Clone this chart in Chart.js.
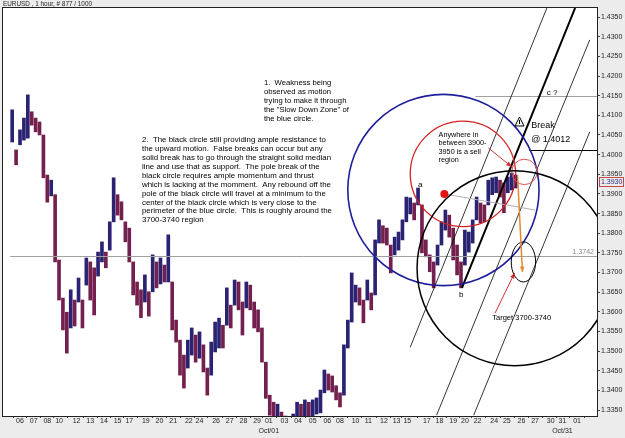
<!DOCTYPE html>
<html lang="en">
<head>
<meta charset="UTF-8">
<title>EURUSD 1 hour</title>
<script src="https://cdn.jsdelivr.net/npm/chart.js"></script>
<style>
    body { margin: 0; padding: 0; background: #ececec; }
    #wrap { width: 625px; height: 438px; }
</style>
</head>
<body>
<div id="wrap"><canvas id="fxChart" width="625" height="438"></canvas></div>
<script>
// hourly bars, resampled: one bar per ~6 hours (high / low)
const barHigh = [
    1.4114, 1.4012, 1.4063, 1.4093, 1.4152, 1.4109, 1.4093, 1.4083, 1.4050, 1.3948,
    1.3935, 1.3898, 1.3732, 1.3635, 1.3599, 1.3656, 1.3630, 1.3686, 1.3630, 1.3737,
    1.3727, 1.3712, 1.3752, 1.3778, 1.3752, 1.3829, 1.3941, 1.3898, 1.3880, 1.3829,
    1.3813, 1.3727, 1.3676, 1.3656, 1.3694, 1.3651, 1.3745, 1.3727, 1.3737, 1.3719,
    1.3796, 1.3676, 1.3579, 1.3528, 1.3490, 1.3528, 1.3559, 1.3541, 1.3549, 1.3516,
    1.3457, 1.3523, 1.3574, 1.3584, 1.3566, 1.3661, 1.3617, 1.3681, 1.3676, 1.3625,
    1.3676, 1.3668, 1.3625, 1.3605, 1.3559, 1.3472, 1.3388, 1.3370, 1.3365, 1.3345,
    1.3335, 1.3325, 1.3340, 1.3370, 1.3365, 1.3376, 1.3370, 1.3376, 1.3381, 1.3401,
    1.3452, 1.3442, 1.3437, 1.3412, 1.3394, 1.3516, 1.3579, 1.3699, 1.3668, 1.3661,
    1.3630, 1.3681, 1.3648, 1.3783, 1.3834, 1.3819, 1.3813, 1.3770, 1.3790, 1.3803,
    1.3834, 1.3892, 1.3890, 1.3877, 1.3915, 1.3872, 1.3783, 1.3745, 1.3727, 1.3770,
    1.3829, 1.3859, 1.3846, 1.3813, 1.3770, 1.3727, 1.3808, 1.3803, 1.3834, 1.3892,
    1.3877, 1.3872, 1.3935, 1.3941, 1.3943, 1.3935, 1.3928, 1.3943, 1.3953, 1.3948
];
const barLow = [
    1.4032, 1.3974, 1.4025, 1.4037, 1.4042, 1.4075, 1.4058, 1.4050, 1.3941, 1.3879,
    1.3895, 1.3727, 1.3630, 1.3554, 1.3495, 1.3559, 1.3564, 1.3625, 1.3559, 1.3668,
    1.3630, 1.3592, 1.3691, 1.3727, 1.3712, 1.3757, 1.3829, 1.3846, 1.3834, 1.3778,
    1.3727, 1.3643, 1.3617, 1.3585, 1.3625, 1.3589, 1.3651, 1.3661, 1.3671, 1.3676,
    1.3676, 1.3554, 1.3523, 1.3439, 1.3406, 1.3457, 1.3490, 1.3472, 1.3482, 1.3447,
    1.3388, 1.3439, 1.3498, 1.3508, 1.3508, 1.3566, 1.3559, 1.3617, 1.3605, 1.3541,
    1.3610, 1.3605, 1.3559, 1.3549, 1.3472, 1.3380, 1.3337, 1.3325, 1.3330, 1.3299,
    1.3284, 1.3274, 1.3294, 1.3330, 1.3330, 1.3332, 1.3330, 1.3335, 1.3340, 1.3343,
    1.3394, 1.3401, 1.3396, 1.3376, 1.3358, 1.3388, 1.3508, 1.3574, 1.3625, 1.3617,
    1.3572, 1.3630, 1.3605, 1.3643, 1.3775, 1.3775, 1.3770, 1.3699, 1.3745, 1.3757,
    1.3783, 1.3829, 1.3849, 1.3834, 1.3872, 1.3750, 1.3740, 1.3702, 1.3661, 1.3719,
    1.3770, 1.3808, 1.3790, 1.3732, 1.3694, 1.3661, 1.3719, 1.3752, 1.3775, 1.3834,
    1.3826, 1.3829, 1.3872, 1.3898, 1.3903, 1.3892, 1.3852, 1.3903, 1.3910, 1.3915
];

const lastPrice = 1.3930;
const markLine = 1.3742;

// day ticks along the bottom (position in bar units)
const dayTickPos = [2, 5.5, 9, 12, 16.5, 20, 23.5, 27, 30, 34.25, 37.75, 41.25, 45.25, 48,
    52.25, 55.75, 59.25, 62.75, 65.75, 69.75, 73.25, 77, 80.75, 84, 88, 91.25, 95.25, 98.5,
    101.25, 106.25, 109.5, 113, 116, 119.25, 123.5, 126.75, 130.5, 134, 138, 141, 144.75];
const dayTickLabels = ['06', '07', '08', '10', '12', '13', '14', '15', '17', '19', '20', '21', '22', '24',
    '26', '27', '28', '29', '01', '03', '04', '05', '06', '08', '10', '11', '12', '13',
    '15', '17', '18', '19', '20', '22', '24', '25', '26', '27', '30', '31', '01'];
const monthTickPos = [65.75, 141];
const monthTickLabels = ['Oct/01', 'Oct/31'];

const xMin = -0.5, xMax = 148;
const yMin = 1.3335, yMax = 1.4373;

// drawn studies (bar units, price)
const circles = [
    { x: 110.5, y: 1.3910, r: 24.5, color: '#1e1e9a', width: 1.6 },
    { x: 115.5, y: 1.3951, r: 13.5, color: '#d42222', width: 1.3 },
    { x: 131.25, y: 1.3956, r: 3.25, color: '#e05050', width: 1 },
    { x: 128.75, y: 1.3711, r: 25, color: '#000000', width: 1.5 }
];
const targetOval = { x: 131, y: 1.3727, rx: 3.125, ry: 0.0051 };
const forkLines = [
    { from: [102, 1.3510], to: [137, 1.4373], color: '#000', width: 0.8 },
    { from: [115.25, 1.3661], to: [144.25, 1.4373], color: '#000', width: 2 },
    { from: [108.75, 1.3337], to: [148, 1.4292], color: '#000', width: 0.8 },
    { from: [118.25, 1.3337], to: [148, 1.4058], color: '#000', width: 0.8 },
    { from: [110.75, 1.3900], to: [134, 1.3859], color: '#b0b0b0', width: 1 }
];
const levels = [
    { price: markLine, from: xMin, color: '#a0a0a0', width: 1 },
    { price: 1.4150, from: 118.75, color: '#a0a0a0', width: 1 },
    { price: 1.4012, from: 132.5, color: '#000000', width: 1 }
];
const arrows = [
    { from: [129.5, 1.3948], to: [130.75, 1.3701], color: '#e08a30', width: 1.5 },
    { from: [123.75, 1.3597], to: [128.75, 1.3699], color: '#d03030', width: 1 },
    { from: [122, 1.4017], to: [128, 1.3969], color: '#d03030', width: 1 }
];
const notes = [
    { x: 64.5, y: 1.4182, w: 85, lh: 9, lines: ['1.  Weakness being', 'observed as motion',
        'trying to make it through', 'the "Slow Down Zone" of', 'the blue circle.'] },
    { x: 33.25, y: 1.4037, w: 190, lh: 8.9, lines: [
        '2.  The black circle still providing ample resistance to',
        'the upward motion.  False breaks can occur but any',
        'solid break has to go through the straight solid median',
        'line and use that as support.  The pole break of the',
        'black circle requires ample momentum and thrust',
        'which is lacking at the momment.  Any rebound off the',
        'pole of the black circle will travel at a minimum to the',
        'center of the black circle which is very close to the',
        'perimeter of the blue circle.  This is roughly around the',
        '3700-3740 region'] },
    { x: 109.25, y: 1.4050, w: 48, lh: 8.2, lines: ['Anywhere in', 'between 3900-', '3950 is a sell', 'region'] },
    { x: 123, y: 1.3584, w: 59, lh: 9, lines: ['Target 3700-3740'] },
    { x: 133, y: 1.4073, w: 39, lh: 14, size: 9, lines: ['Break', '@ 1.4012'] },
    { x: 137, y: 1.4157, w: 11, lh: 9, lines: ['c ?'] },
    { x: 104, y: 1.3923, w: 5, lh: 9, lines: ['a'] },
    { x: 114.5, y: 1.3643, w: 5, lh: 9, lines: ['b'] }
];
const redDot = { x: 110.75, y: 1.3900 };
const warnMark = { x: 130, y: 1.4083 };

function barColors() {
    return barHigh.map((h, i) => {
        if (i === 0) return '#2a2272';
        const mid = (h + barLow[i]) / 2;
        const prev = (barHigh[i - 1] + barLow[i - 1]) / 2;
        return mid >= prev ? '#2a2272' : '#74204e';
    });
}

function drawArrowHead(ctx, x0, y0, x1, y1, size) {
    const ang = Math.atan2(y1 - y0, x1 - x0);
    ctx.beginPath();
    ctx.moveTo(x1, y1);
    ctx.lineTo(x1 - size * Math.cos(ang - 0.4), y1 - size * Math.sin(ang - 0.4));
    ctx.lineTo(x1 - size * Math.cos(ang + 0.4), y1 - size * Math.sin(ang + 0.4));
    ctx.closePath();
    ctx.fill();
}

function drawNote(ctx, note, xs, ys) {
    ctx.font = (note.size || 8) + 'px Arial';
    const widest = Math.max(...note.lines.map(l => ctx.measureText(l).width));
    const sx = Math.min(1, note.w / widest);
    const px = xs.getPixelForValue(note.x);
    const py = ys.getPixelForValue(note.y);
    note.lines.forEach((line, i) => {
        ctx.save();
        ctx.translate(px, py + i * note.lh);
        ctx.scale(note.w < 10 ? 1 : sx, 1);
        ctx.fillText(line, 0, 0);
        ctx.restore();
    });
}

const studies = {
    id: 'studies',
    beforeDraw(chart) {
        const { ctx, chartArea: a } = chart;
        ctx.save();
        ctx.fillStyle = '#ececec';
        ctx.fillRect(0, 0, chart.width, chart.height);
        ctx.fillStyle = '#ffffff';
        ctx.fillRect(a.left, a.top, a.right - a.left, a.bottom - a.top);
        ctx.restore();
    },
    afterDatasetsDraw(chart) {
        const { ctx, chartArea: a } = chart;
        const xs = chart.scales.x, ys = chart.scales.y;
        const unit = xs.getPixelForValue(1) - xs.getPixelForValue(0);
        ctx.save();
        ctx.beginPath();
        ctx.rect(a.left, a.top, a.right - a.left, a.bottom - a.top);
        ctx.clip();

        levels.forEach(l => {
            const y = Math.round(ys.getPixelForValue(l.price)) + 0.5;
            ctx.strokeStyle = l.color;
            ctx.lineWidth = l.width;
            ctx.beginPath();
            ctx.moveTo(xs.getPixelForValue(l.from), y);
            ctx.lineTo(a.right, y);
            ctx.stroke();
        });

        forkLines.forEach(l => {
            ctx.strokeStyle = l.color;
            ctx.lineWidth = l.width;
            ctx.beginPath();
            ctx.moveTo(xs.getPixelForValue(l.from[0]), ys.getPixelForValue(l.from[1]));
            ctx.lineTo(xs.getPixelForValue(l.to[0]), ys.getPixelForValue(l.to[1]));
            ctx.stroke();
        });

        circles.forEach(c => {
            ctx.strokeStyle = c.color;
            ctx.lineWidth = c.width;
            ctx.beginPath();
            ctx.arc(xs.getPixelForValue(c.x), ys.getPixelForValue(c.y), c.r * unit, 0, Math.PI * 2);
            ctx.stroke();
        });

        const oy = ys.getPixelForValue(targetOval.y);
        const ry = Math.abs(ys.getPixelForValue(targetOval.y + targetOval.ry) - oy);
        ctx.strokeStyle = '#000';
        ctx.lineWidth = 1;
        ctx.beginPath();
        ctx.ellipse(xs.getPixelForValue(targetOval.x), oy, targetOval.rx * unit, ry, 0, 0, Math.PI * 2);
        ctx.stroke();

        arrows.forEach(ar => {
            const x0 = xs.getPixelForValue(ar.from[0]), y0 = ys.getPixelForValue(ar.from[1]);
            const x1 = xs.getPixelForValue(ar.to[0]), y1 = ys.getPixelForValue(ar.to[1]);
            ctx.strokeStyle = ar.color;
            ctx.fillStyle = ar.color;
            ctx.lineWidth = ar.width;
            ctx.beginPath();
            ctx.moveTo(x0, y0);
            ctx.lineTo(x1, y1);
            ctx.stroke();
            drawArrowHead(ctx, x0, y0, x1, y1, 6);
        });

        // red pivot dot
        ctx.fillStyle = '#e01414';
        ctx.beginPath();
        ctx.arc(xs.getPixelForValue(redDot.x), ys.getPixelForValue(redDot.y), 4, 0, Math.PI * 2);
        ctx.fill();

        // warning mark
        const wx = xs.getPixelForValue(warnMark.x), wy = ys.getPixelForValue(warnMark.y);
        ctx.strokeStyle = '#000';
        ctx.lineWidth = 1;
        ctx.beginPath();
        ctx.moveTo(wx, wy - 5);
        ctx.lineTo(wx + 4.5, wy + 4);
        ctx.lineTo(wx - 4.5, wy + 4);
        ctx.closePath();
        ctx.moveTo(wx, wy - 2);
        ctx.lineTo(wx, wy + 2);
        ctx.stroke();

        ctx.fillStyle = '#000';
        ctx.textBaseline = 'middle';
        ctx.textAlign = 'left';
        notes.forEach(n => drawNote(ctx, n, xs, ys));
        ctx.restore();
    },
    afterDraw(chart) {
        const { ctx, chartArea: a } = chart;
        const xs = chart.scales.x, ys = chart.scales.y;
        ctx.save();
        ctx.strokeStyle = '#222';
        ctx.lineWidth = 1;
        ctx.strokeRect(a.left - 0.5, a.top - 0.5, a.right - a.left + 1, a.bottom - a.top + 1);

        ctx.font = '7px Arial';
        ctx.textBaseline = 'middle';
        // mark line value
        ctx.fillStyle = '#8a8a8a';
        ctx.textAlign = 'right';
        ctx.fillText(markLine.toFixed(4), a.right - 3, ys.getPixelForValue(markLine) - 4);

        // last price box
        const ly = Math.round(ys.getPixelForValue(lastPrice));
        ctx.strokeStyle = '#c84848';
        ctx.strokeRect(a.right + 2.5, ly - 4.5, 24, 9);
        ctx.fillStyle = '#2a2a8a';
        ctx.textAlign = 'left';
        ctx.fillText(lastPrice.toFixed(4), a.right + 4, ly);

        // month labels
        ctx.fillStyle = '#222';
        ctx.textAlign = 'center';
        monthTickPos.forEach((p, i) => {
            ctx.fillText(monthTickLabels[i], xs.getPixelForValue(p), 431);
        });

        // title
        ctx.textAlign = 'left';
        ctx.font = '8px Arial';
        const title = 'EURUSD , 1 hour, # 877 / 1000';
        const tw = ctx.measureText(title).width;
        ctx.translate(3, 4);
        ctx.scale(89 / tw, 1);
        ctx.fillText(title, 0, 0);
        ctx.restore();
    }
};

const ctx = document.getElementById('fxChart').getContext('2d');
new Chart(ctx, {
    type: 'bar',
    data: {
        datasets: [{
            data: barHigh.map((h, i) => ({ x: i, y: [barLow[i], h] })),
            backgroundColor: barColors(),
            borderWidth: 0,
            barThickness: 3
        }]
    },
    options: {
        responsive: false,
        animation: false,
        events: [],
        layout: { padding: { left: 3, top: 8, right: 0, bottom: 0 } },
        plugins: { legend: { display: false }, tooltip: { enabled: false } },
        scales: {
            x: {
                type: 'linear',
                min: xMin,
                max: xMax,
                border: { display: false },
                grid: { drawOnChartArea: false, tickLength: 2, color: '#444' },
                afterBuildTicks: axis => { axis.ticks = dayTickPos.map(v => ({ value: v })); },
                afterFit: axis => { axis.height = 22; },
                ticks: {
                    autoSkip: false,
                    maxRotation: 0,
                    padding: 0,
                    color: '#222',
                    font: { family: 'Arial', size: 7, lineHeight: 1 },
                    callback: (v, i) => dayTickLabels[i]
                }
            },
            y: {
                position: 'right',
                min: yMin,
                max: yMax,
                border: { display: false },
                grid: { drawOnChartArea: false, tickLength: 3, color: '#444' },
                afterFit: axis => { axis.width = 28; },
                ticks: {
                    stepSize: 0.005,
                    includeBounds: false,
                    autoSkip: false,
                    padding: 1,
                    color: '#222',
                    font: { family: 'Arial', size: 7 },
                    callback: v => v.toFixed(4)
                }
            }
        }
    },
    plugins: [studies]
});
</script>
</body>
</html>
